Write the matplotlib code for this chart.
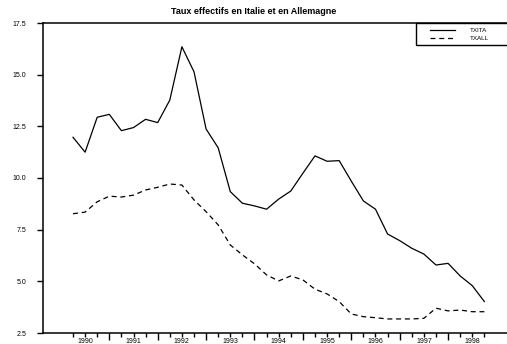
import matplotlib
matplotlib.use("Agg")
import matplotlib.pyplot as plt
from matplotlib.ticker import FixedLocator, FixedFormatter
from matplotlib.patches import Rectangle

plt.rcParams['font.family'] = ['Liberation Sans', 'DejaVu Sans']

# Quarterly data 1990Q1 .. 1998Q3
txita = [11.97, 11.25, 12.94, 13.08, 12.29, 12.44, 12.84, 12.68,
         13.77, 16.35, 15.14, 12.37, 11.46, 9.34, 8.78, 8.65,
         8.49, 8.98, 9.37, 10.23, 11.07, 10.81, 10.84, 9.85,
         8.89, 8.49, 7.29, 6.97, 6.60, 6.32, 5.79, 5.87,
         5.26, 4.79, 4.02]
txall = [8.27, 8.35, 8.85, 9.12, 9.08, 9.17, 9.42, 9.55,
         9.71, 9.66, 8.94, 8.37, 7.73, 6.76, 6.28, 5.85,
         5.31, 5.02, 5.26, 5.07, 4.62, 4.39, 4.02, 3.42,
         3.29, 3.24, 3.18, 3.18, 3.18, 3.21, 3.70, 3.57,
         3.61, 3.53, 3.53]
years = ['1990', '1991', '1992', '1993', '1994', '1995', '1996', '1997', '1998']
yticks = [2.5, 5.0, 7.5, 10.0, 12.5, 15.0, 17.5]
title = 'Taux effectifs en Italie et en Allemagne'

x = list(range(len(txita)))

fig = plt.figure(figsize=(5.07, 3.44), dpi=100)
ax = fig.add_axes([43/507, 1-333/344, 1-43/507, (333-23)/344])

ax.plot(x, txita, color='black', lw=0.9, label='TXITA')
ax.plot(x, txall, color='black', lw=0.9, dashes=(4, 3), label='TXALL')

ax.set_xlim(-2.48, 35.87)
ax.set_ylim(2.5, 17.5)

ax.set_yticks(yticks)
ax.set_yticklabels([f'{v:.1f}' for v in yticks])
ax.tick_params(axis='y', direction='out', length=4, width=1, labelsize=5, pad=8)

major = [3 + 4*k for k in range(8)]
ax.xaxis.set_major_locator(FixedLocator(major))
ax.xaxis.set_major_formatter(FixedFormatter([''] * len(major)))
minor = [i for i in range(0, 35) if i not in major]
labels = []
for i in minor:
    if (i - 1) % 4 == 0 and (i - 1)//4 < len(years):
        labels.append(years[(i - 1)//4])
    else:
        labels.append('')
ax.xaxis.set_minor_locator(FixedLocator(minor))
ax.xaxis.set_minor_formatter(FixedFormatter(labels))
ax.tick_params(axis='x', which='major', direction='out', length=5, width=1, labelsize=5)
ax.tick_params(axis='x', which='minor', direction='out', length=3, width=1, labelsize=5, pad=0.5)

for s in ['left', 'bottom', 'top']:
    ax.spines[s].set_linewidth(1.1)
ax.spines['right'].set_visible(False)

# legend box (extends past the right edge as in the reference)
ax.add_patch(Rectangle((0.804, 0.929), 0.3, 0.071, transform=ax.transAxes,
                       fill=False, edgecolor='black', lw=1.0, clip_on=False))
leg = ax.legend(loc='upper left', bbox_to_anchor=(0.834, 0.986), borderaxespad=0,
                borderpad=0, fontsize=4.5, handlelength=4.0, labelspacing=0.45,
                frameon=False, handletextpad=2.4)

fig.text(0.5, 1-11/344, title, ha='center', va='center', fontsize=6.5, fontweight='bold')

fig.savefig('out.png', dpi=100)
